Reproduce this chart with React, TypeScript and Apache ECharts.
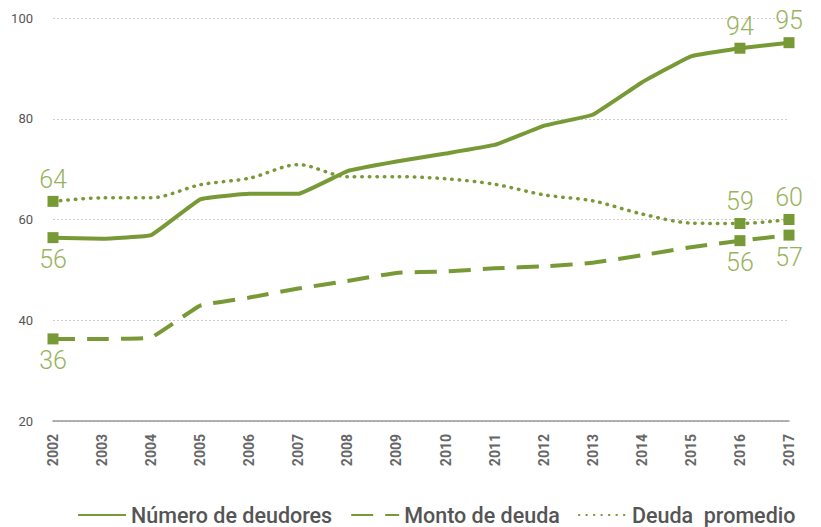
import React, { useEffect, useRef } from "react";
import * as echarts from "echarts";

const years = ["2002","2003","2004","2005","2006","2007","2008","2009","2010","2011","2012","2013","2014","2015","2016","2017"];
const numeroDeudores = [56.4, 56.2, 56.9, 64.0, 65.1, 65.1, 69.6, 71.5, 73.1, 74.8, 78.6, 80.8, 87.2, 92.4, 94.0, 95.1];
const montoDeuda = [36.3, 36.3, 36.6, 42.9, 44.5, 46.3, 47.8, 49.4, 49.7, 50.3, 50.7, 51.4, 52.9, 54.5, 55.8, 56.9];
const deudaPromedio = [63.6, 64.3, 64.3, 66.9, 68.2, 70.9, 68.5, 68.5, 68.1, 67.0, 64.9, 63.7, 61.1, 59.3, 59.2, 60.0];
const markedIdx = [0, 14, 15];
const labelTop = { numero: [false, true, true], monto: [false, false, false], promedio: [true, true, true] };

const GREEN = "#789a36";
const LABEL_GREEN = "#98b35e";

function build(values: number[], tops: boolean[]) {
  return values.map((v, i) => {
    const k = markedIdx.indexOf(i);
    if (k < 0) return { value: v };
    return {
      value: v,
      symbol: "rect",
      symbolSize: 11,
      label: {
        show: true,
        position: tops[k] ? "top" : "bottom",
        distance: 4,
        formatter: () => String(Math.round(v)),
        color: LABEL_GREEN,
        fontFamily: "Roboto",
        fontWeight: 300,
        fontSize: 25,
      },
    };
  });
}

export default function App() {
  const ref = useRef<HTMLDivElement>(null);
  useEffect(() => {
    const chart = echarts.init(ref.current!, null, { renderer: "svg" });
    chart.setOption({
      animation: false,
      grid: { left: 53, right: 32, top: 18, bottom: 106 },
      legend: {
        top: 504,
        left: 77,
        padding: 0,
        itemWidth: 48,
        itemHeight: 12,
        itemGap: 18,
        itemStyle: { opacity: 0 },
        textStyle: { fontFamily: "Roboto", fontWeight: 500, fontSize: 21.5, lineHeight: 22, color: "#555" },
        data: ["Número de deudores", "Monto de deuda", "Deuda  promedio"],
      },
      xAxis: {
        type: "category",
        data: years,
        boundaryGap: false,
        axisLine: { lineStyle: { color: "#999", width: 1.5 } },
        axisTick: { show: false },
        axisLabel: { rotate: 90, margin: 13, fontFamily: "Roboto", fontWeight: 700, fontSize: 14, color: "#666" },
      },
      yAxis: {
        type: "value",
        min: 20,
        max: 100,
        interval: 20,
        axisLine: { show: false },
        axisTick: { show: false },
        axisLabel: { margin: 20, fontFamily: "Roboto", fontSize: 13, color: "#555" },
        splitLine: { lineStyle: { color: "#ccc", type: [2, 2], width: 1 } },
      },
      series: [
        {
          name: "Número de deudores",
          type: "line",
          symbol: "none",
          smooth: 0.08,
          lineStyle: { color: GREEN, width: 4 },
          itemStyle: { color: GREEN },
          data: build(numeroDeudores, labelTop.numero),
        },
        {
          name: "Monto de deuda",
          type: "line",
          symbol: "none",
          smooth: 0.1,
          lineStyle: { color: GREEN, width: 4, type: [22, 12] },
          itemStyle: { color: GREEN },
          data: build(montoDeuda, labelTop.monto),
        },
        {
          name: "Deuda  promedio",
          type: "line",
          symbol: "none",
          smooth: 0.3,
          lineStyle: { color: GREEN, width: 3.5, type: [0.5, 7], cap: "round" },
          itemStyle: { color: GREEN },
          data: build(deudaPromedio, labelTop.promedio),
        },
      ],
    });
    return () => chart.dispose();
  }, []);
  return <div ref={ref} style={{ width: 821, height: 527, position: "absolute", left: 0, top: 0 }} />;
}
